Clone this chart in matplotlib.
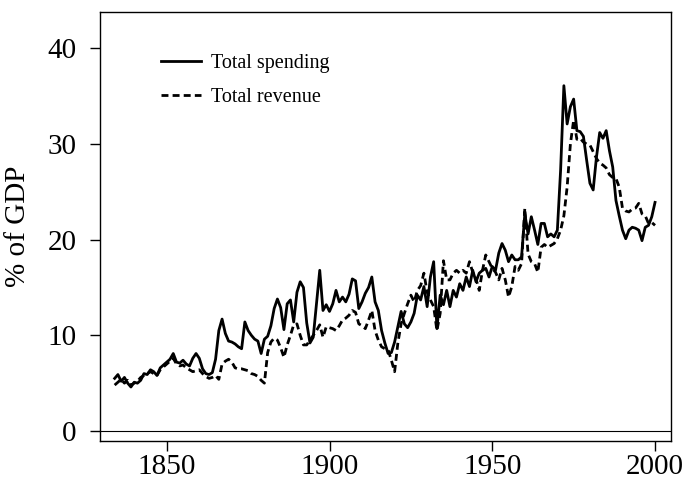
import matplotlib
matplotlib.use("Agg")
import matplotlib.pyplot as plt
import numpy as np

plt.rcParams['font.family'] = ['Liberation Serif', 'DejaVu Serif']

years = np.arange(1834, 2001)

spending = [
    5.5, 5.9, 5.2, 5.6, 5.0, 4.6,
    5.1, 5.0, 5.3, 6.0, 5.9, 6.4, 6.2, 5.8, 6.6, 6.9,   # 1840s
    7.2, 7.5, 8.1, 7.2, 7.1, 7.4, 7.0, 6.8, 7.6, 8.1,   # 1850s
    7.6, 6.5, 6.0, 5.9, 6.1, 7.5, 10.5, 11.7, 10.2, 9.4,  # 1860s
    9.3, 9.1, 8.8, 8.6, 11.4, 10.5, 10.0, 9.6, 9.4, 8.1,  # 1870s
    9.6, 9.9, 11.0, 12.8, 13.8, 12.9, 10.6, 13.3, 13.7, 11.4,  # 1880s
    14.5, 15.6, 15.0, 11.3, 9.2, 9.8, 13.3, 16.8, 12.6, 13.2,  # 1890s
    12.5, 13.3, 14.7, 13.5, 14.0, 13.5, 14.3, 15.9, 15.7, 12.8,  # 1900s
    13.5, 14.4, 15.0, 16.1, 13.5, 12.6, 10.5, 9.2, 8.1, 8.2,  # 1910s
    9.3, 10.9, 12.5, 11.2, 10.8, 11.4, 12.3, 14.2, 13.7, 15.1,  # 1920s
    13.0, 16.1, 17.7, 10.7, 14.2, 13.2, 14.7, 13.0, 14.7, 14.0,  # 1930s
    15.4, 14.7, 16.1, 15.1, 16.8, 15.6, 16.5, 16.8, 17.0, 16.1,  # 1940s
    17.2, 16.8, 18.6, 19.6, 18.9, 17.7, 18.4, 17.9, 17.9, 18.2,  # 1950s
    22.7, 20.6, 22.4, 21.0, 19.5, 21.7, 21.7, 20.3, 20.6, 20.3,  # 1960s
    21.0, 27.3, 36.1, 32.1, 33.9, 34.7, 31.4, 31.3, 30.8, 28.3,  # 1970s
    25.9, 25.2, 28.6, 31.2, 30.6, 31.4, 29.3, 27.6, 24.1, 22.5,  # 1980s
    21.0, 20.1, 21.0, 21.3, 21.2, 21.0, 19.9, 21.3, 21.5, 22.4,  # 1990s
    23.9,
]

revenue = [
    4.8, 5.1, 5.4, 5.0, 5.3, 4.8,
    5.0, 5.2, 5.6, 5.8, 6.0, 6.2, 6.0, 5.8, 6.4, 6.7,
    7.0, 7.3, 7.6, 7.0, 6.8, 6.9, 6.6, 6.4, 6.2, 6.3,
    6.4, 6.0, 5.7, 5.5, 5.6, 5.8, 5.4, 7.0, 7.3, 7.5,
    7.2, 6.6, 6.5, 6.5, 6.4, 6.3, 6.0, 5.9, 5.7, 5.3,
    5.0, 8.2, 9.3, 9.7, 9.5, 8.7, 7.7, 9.0, 10.0, 11.1,
    11.2, 10.0, 9.0, 9.0, 9.5, 10.0, 10.5, 11.1, 9.8, 10.9,
    10.8, 10.7, 10.5, 11.0, 11.6, 11.8, 12.1, 12.6, 12.4, 11.2,
    11.0, 10.7, 11.6, 12.6, 10.5, 9.5, 8.8, 8.6, 8.5, 7.4,
    6.2, 9.2, 11.2, 12.3, 13.3, 14.2, 13.5, 14.7, 15.2, 16.5,
    14.5, 13.7, 13.0, 10.5, 12.3, 17.8, 15.8, 15.8, 16.5, 16.8,
    16.5, 16.8, 16.5, 17.7, 16.6, 15.9, 14.7, 16.8, 18.4, 17.7,
    17.0, 16.6, 15.8, 17.0, 15.8, 14.0, 15.1, 17.2, 16.8, 17.5,
    23.3, 18.5, 17.7, 17.5, 16.6, 19.2, 19.5, 19.2, 19.4, 19.6,
    20.1, 21.0, 22.5, 25.5, 30.0, 32.5, 30.5, 30.6, 30.2, 30.0,
    29.9, 29.2, 28.5, 28.0, 27.8, 27.5, 26.8, 26.5, 26.4, 25.5,
    23.3, 23.0, 22.9, 23.2, 23.3, 23.8, 22.7, 22.5, 21.7, 21.8,
    21.5,
]

fig = plt.figure(figsize=(6.85, 4.82), dpi=100)
ax = fig.add_axes([0.146, 0.085, 0.834, 0.89])

ax.plot(years, spending, color='black', lw=2.0, label='Total spending')
ax.plot(years, revenue, color='black', lw=2.0, ls=(0, (2.5, 1.5)), label='Total revenue')
ax.axhline(0, color='black', lw=0.8)

ax.set_xlim(1829.5, 2005)
ax.set_ylim(-1.05, 43.8)
ax.set_xticks([1850, 1900, 1950, 2000])
ax.set_yticks([0, 10, 20, 30, 40])
ax.tick_params(direction='out', length=7, width=1, labelsize=21)
ax.tick_params(axis='x', pad=2)
ax.tick_params(axis='y', pad=10)
ax.set_ylabel('% of GDP', fontsize=21, labelpad=12)
for s in ax.spines.values():
    s.set_linewidth(1)

ax.legend(loc='upper left', frameon=False, fontsize=14.5, handlelength=2.0,
          bbox_to_anchor=(0.075, 0.945), labelspacing=0.75, handletextpad=0.5)

fig.savefig('out.png', dpi=100)
